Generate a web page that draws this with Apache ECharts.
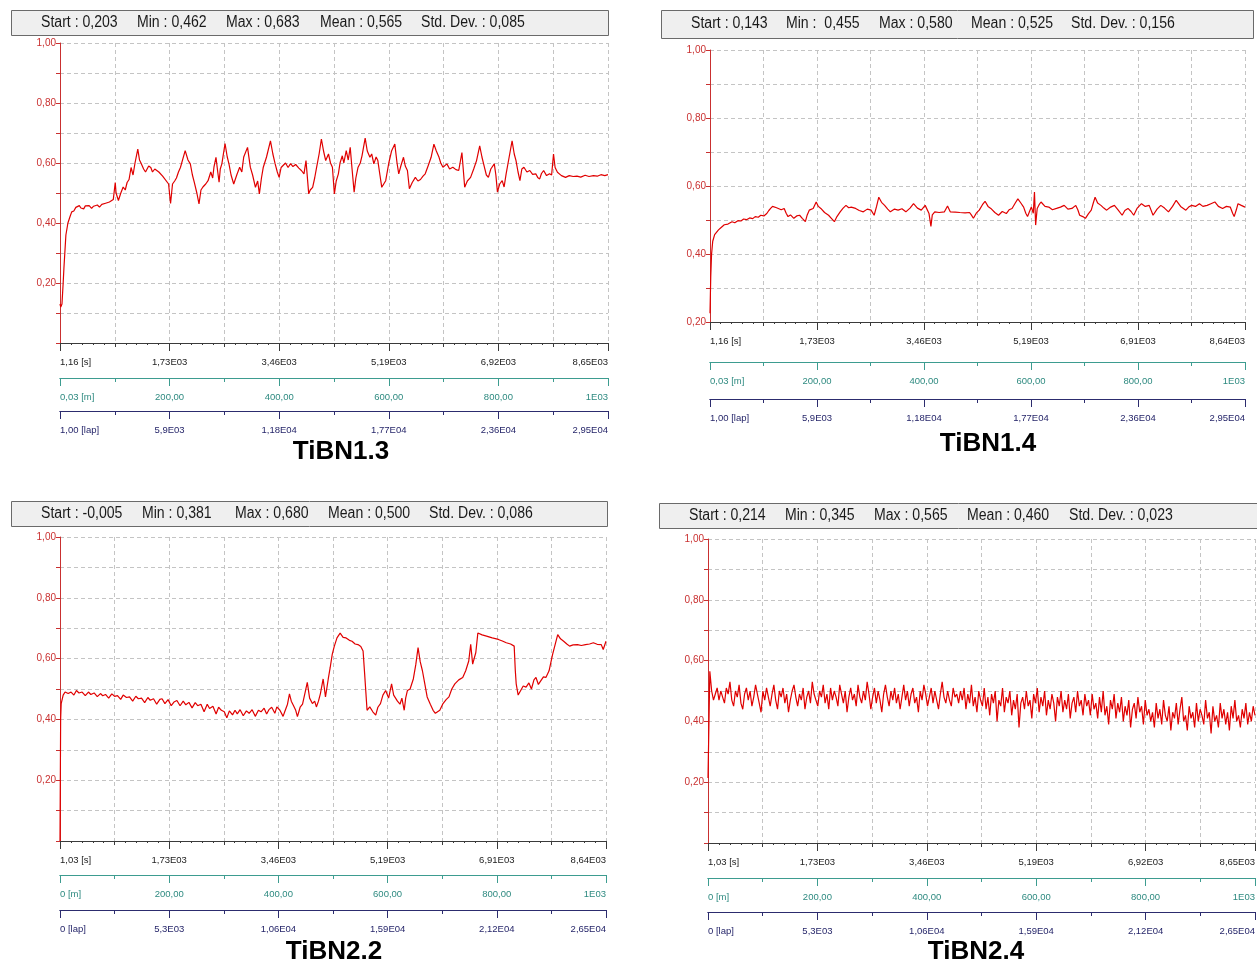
<!DOCTYPE html>
<html><head><meta charset="utf-8">
<script src="https://cdn.jsdelivr.net/npm/echarts@6/dist/echarts.min.js"></script>
<style>html,body{margin:0;padding:0;background:#fff}#c{width:1257px;height:964px}</style>
</head><body><div id="c"></div><script>
// ---------- DATA ----------
// TiBN1.3 : [time s, friction coefficient]
const tibn13 = [[0,0.13],[12,0.12],[31,0.13],[50,0.20],[62,0.25],[93,0.36],[125,0.40],[156,0.42],[185,0.437],[218,0.44],[250,0.452],[280,0.446],[305,0.458],[330,0.45],[350,0.456],[374,0.447],[400,0.457],[430,0.452],[460,0.458],[499,0.449],[530,0.456],[560,0.45],[590,0.46],[623,0.453],[660,0.462],[690,0.456],[720,0.466],[748,0.46],[780,0.47],[810,0.466],[841,0.478],[872,0.535],[885,0.5],[900,0.49],[922,0.475],[960,0.50],[997,0.52],[1030,0.51],[1059,0.535],[1090,0.545],[1122,0.585],[1153,0.56],[1184,0.60],[1228,0.646],[1255,0.61],[1278,0.60],[1320,0.58],[1350,0.57],[1371,0.575],[1400,0.59],[1433,0.585],[1460,0.57],[1496,0.58],[1527,0.586],[1560,0.57],[1589,0.565],[1620,0.556],[1651,0.552],[1714,0.53],[1745,0.465],[1776,0.53],[1810,0.54],[1838,0.55],[1870,0.57],[1901,0.585],[1976,0.641],[2020,0.61],[2057,0.597],[2090,0.56],[2119,0.536],[2160,0.50],[2194,0.464],[2225,0.51],[2256,0.52],[2300,0.53],[2337,0.541],[2380,0.57],[2410,0.55],[2430,0.586],[2462,0.619],[2490,0.57],[2511,0.536],[2530,0.58],[2555,0.597],[2605,0.665],[2640,0.62],[2667,0.597],[2700,0.56],[2742,0.53],[2790,0.56],[2836,0.586],[2870,0.57],[2900,0.62],[2960,0.652],[3004,0.586],[3040,0.56],[3085,0.519],[3120,0.54],[3147,0.497],[3180,0.55],[3209,0.586],[3260,0.62],[3322,0.674],[3360,0.63],[3396,0.597],[3430,0.57],[3459,0.552],[3490,0.585],[3521,0.591],[3560,0.60],[3600,0.585],[3640,0.598],[3677,0.588],[3720,0.595],[3770,0.583],[3810,0.575],[3851,0.564],[3883,0.608],[3926,0.497],[3950,0.51],[3988,0.519],[4020,0.55],[4051,0.586],[4090,0.63],[4126,0.680],[4160,0.64],[4194,0.608],[4238,0.630],[4270,0.60],[4300,0.586],[4331,0.497],[4360,0.54],[4394,0.564],[4420,0.60],[4456,0.624],[4480,0.60],[4518,0.641],[4550,0.61],[4581,0.652],[4610,0.58],[4643,0.503],[4670,0.55],[4705,0.586],[4740,0.60],[4767,0.624],[4817,0.683],[4850,0.64],[4892,0.619],[4920,0.63],[4954,0.597],[4990,0.62],[5017,0.608],[5050,0.56],[5079,0.519],[5110,0.53],[5141,0.541],[5190,0.60],[5235,0.641],[5285,0.663],[5320,0.60],[5347,0.564],[5380,0.59],[5422,0.619],[5450,0.59],[5484,0.575],[5515,0.514],[5560,0.535],[5609,0.552],[5650,0.54],[5690,0.545],[5730,0.556],[5765,0.564],[5810,0.59],[5858,0.619],[5902,0.663],[5940,0.64],[5983,0.619],[6010,0.60],[6045,0.586],[6075,0.59],[6107,0.597],[6150,0.58],[6201,0.586],[6250,0.578],[6294,0.575],[6344,0.635],[6388,0.519],[6430,0.54],[6481,0.552],[6530,0.58],[6575,0.608],[6625,0.657],[6660,0.62],[6699,0.586],[6730,0.56],[6762,0.552],[6800,0.58],[6855,0.597],[6880,0.56],[6905,0.503],[6940,0.53],[6980,0.541],[7010,0.52],[7042,0.564],[7090,0.62],[7136,0.674],[7170,0.63],[7198,0.608],[7230,0.57],[7260,0.541],[7290,0.58],[7323,0.586],[7370,0.570],[7416,0.575],[7460,0.562],[7510,0.564],[7540,0.552],[7572,0.547],[7600,0.565],[7634,0.575],[7680,0.558],[7728,0.564],[7760,0.56],[7790,0.63],[7815,0.585],[7852,0.569],[7915,0.558],[7980,0.552],[8039,0.558],[8100,0.555],[8160,0.556],[8220,0.553],[8289,0.559],[8350,0.555],[8420,0.558],[8480,0.556],[8538,0.561],[8600,0.558],[8650,0.561]];
// TiBN1.4
const tibn14 = [[0,0.226],[12,0.332],[25,0.399],[44,0.4375],[75,0.457],[105,0.462],[137,0.471],[180,0.478],[231,0.486],[290,0.488],[356,0.495],[400,0.492],[450,0.498],[500,0.497],[543,0.503],[590,0.501],[640,0.506],[690,0.504],[730,0.51],[780,0.508],[820,0.514],[870,0.512],[917,0.519],[950,0.528],[979,0.534],[1010,0.54],[1042,0.543],[1075,0.536],[1104,0.538],[1150,0.53],[1198,0.534],[1230,0.52],[1260,0.51],[1300,0.515],[1354,0.505],[1400,0.512],[1447,0.514],[1490,0.505],[1540,0.495],[1570,0.515],[1603,0.529],[1666,0.534],[1715,0.553],[1750,0.54],[1790,0.534],[1850,0.522],[1915,0.514],[1960,0.505],[2009,0.495],[2050,0.51],[2102,0.524],[2150,0.535],[2196,0.543],[2240,0.536],[2280,0.538],[2352,0.534],[2410,0.528],[2476,0.524],[2540,0.532],[2601,0.529],[2651,0.514],[2690,0.54],[2726,0.567],[2770,0.552],[2820,0.543],[2870,0.532],[2913,0.524],[2980,0.532],[3038,0.529],[3100,0.533],[3163,0.524],[3230,0.535],[3287,0.548],[3350,0.535],[3412,0.529],[3475,0.543],[3537,0.519],[3568,0.481],[3590,0.515],[3630,0.524],[3700,0.522],[3786,0.524],[3836,0.541],[3880,0.524],[3960,0.523],[4036,0.522],[4120,0.521],[4192,0.522],[4220,0.515],[4254,0.505],[4300,0.52],[4348,0.529],[4400,0.545],[4442,0.555],[4490,0.54],[4535,0.534],[4600,0.522],[4660,0.514],[4720,0.525],[4785,0.519],[4830,0.53],[4878,0.534],[4930,0.55],[4972,0.562],[5020,0.55],[5065,0.538],[5100,0.52],[5128,0.51],[5160,0.525],[5190,0.538],[5221,0.52],[5240,0.582],[5259,0.485],[5284,0.534],[5315,0.545],[5346,0.553],[5410,0.54],[5471,0.538],[5530,0.53],[5596,0.534],[5660,0.538],[5720,0.543],[5780,0.532],[5845,0.534],[5907,0.543],[5940,0.53],[5970,0.514],[6020,0.51],[6063,0.505],[6110,0.518],[6157,0.529],[6190,0.55],[6219,0.567],[6260,0.55],[6313,0.543],[6360,0.535],[6406,0.529],[6470,0.538],[6531,0.543],[6590,0.53],[6656,0.514],[6700,0.528],[6750,0.534],[6800,0.525],[6843,0.514],[6900,0.535],[6968,0.548],[7030,0.54],[7093,0.543],[7155,0.514],[7220,0.532],[7280,0.543],[7340,0.535],[7404,0.524],[7470,0.54],[7529,0.558],[7600,0.54],[7685,0.529],[7730,0.538],[7779,0.543],[7840,0.54],[7904,0.548],[7960,0.54],[8028,0.543],[8090,0.548],[8153,0.553],[8210,0.54],[8278,0.534],[8340,0.54],[8402,0.538],[8440,0.52],[8465,0.51],[8500,0.53],[8527,0.548],[8580,0.543],[8640,0.538]];
// TiBN2.2
const tibn22 = [[0,0],[10,0.40],[19,0.452],[50,0.48],[81,0.49],[130,0.485],[175,0.49],[220,0.48],[260,0.495],[301,0.487],[350,0.49],[400,0.478],[450,0.49],[488,0.482],[540,0.487],[590,0.475],[640,0.485],[676,0.478],[720,0.482],[770,0.47],[820,0.484],[864,0.476],[910,0.478],[960,0.466],[1000,0.48],[1052,0.472],[1100,0.474],[1150,0.46],[1200,0.476],[1240,0.468],[1290,0.47],[1340,0.455],[1390,0.472],[1428,0.463],[1480,0.468],[1530,0.45],[1580,0.466],[1615,0.468],[1660,0.452],[1710,0.465],[1760,0.445],[1803,0.457],[1850,0.462],[1900,0.445],[1950,0.46],[1991,0.448],[2040,0.456],[2090,0.438],[2140,0.455],[2179,0.445],[2230,0.45],[2280,0.425],[2330,0.45],[2367,0.436],[2420,0.443],[2470,0.418],[2510,0.44],[2554,0.43],[2600,0.425],[2640,0.405],[2680,0.428],[2730,0.415],[2770,0.43],[2805,0.418],[2850,0.432],[2900,0.412],[2950,0.428],[2993,0.42],[3040,0.432],[3090,0.41],[3140,0.43],[3181,0.425],[3230,0.437],[3270,0.418],[3306,0.432],[3350,0.44],[3400,0.42],[3431,0.441],[3480,0.43],[3530,0.41],[3556,0.425],[3600,0.45],[3631,0.484],[3660,0.46],[3694,0.446],[3730,0.43],[3757,0.409],[3800,0.44],[3838,0.45],[3880,0.49],[3913,0.522],[3950,0.47],[3994,0.452],[4030,0.46],[4057,0.441],[4090,0.46],[4120,0.484],[4164,0.533],[4201,0.474],[4245,0.533],[4275,0.57],[4308,0.614],[4340,0.64],[4383,0.668],[4433,0.684],[4480,0.67],[4527,0.668],[4580,0.66],[4621,0.657],[4670,0.648],[4715,0.646],[4760,0.64],[4796,0.625],[4821,0.549],[4859,0.43],[4902,0.441],[4950,0.425],[4996,0.414],[5030,0.44],[5071,0.452],[5110,0.48],[5153,0.495],[5200,0.47],[5247,0.517],[5280,0.48],[5309,0.474],[5340,0.46],[5380,0.45],[5410,0.47],[5447,0.43],[5470,0.47],[5497,0.495],[5540,0.5],[5591,0.533],[5630,0.58],[5666,0.636],[5700,0.59],[5735,0.56],[5770,0.52],[5810,0.474],[5860,0.45],[5904,0.43],[5940,0.42],[5967,0.414],[6010,0.43],[6061,0.452],[6110,0.465],[6155,0.474],[6200,0.5],[6248,0.517],[6310,0.53],[6373,0.538],[6420,0.56],[6468,0.592],[6499,0.647],[6530,0.582],[6580,0.62],[6612,0.684],[6680,0.678],[6749,0.674],[6840,0.668],[6937,0.663],[7000,0.658],[7062,0.652],[7130,0.648],[7187,0.641],[7205,0.56],[7219,0.517],[7250,0.48],[7281,0.484],[7330,0.51],[7375,0.506],[7420,0.52],[7460,0.5],[7500,0.53],[7532,0.538],[7570,0.515],[7600,0.52],[7650,0.54],[7689,0.538],[7739,0.56],[7795,0.614],[7840,0.65],[7876,0.679],[7920,0.665],[7970,0.657],[8020,0.648],[8064,0.641],[8120,0.645],[8189,0.646],[8250,0.643],[8315,0.646],[8380,0.648],[8440,0.652],[8500,0.647],[8565,0.646],[8596,0.63],[8640,0.657]];
// TiBN2.4 : values sampled evenly over the test (0 .. 8650 s)
const tibn24_values = [0.214,0.565,0.50,0.47,0.49,0.51,0.47,0.50,0.48,0.46,0.51,0.49,0.53,0.47,0.45,0.50,0.48,0.52,0.46,0.44,
0.49,0.51,0.47,0.50,0.45,0.48,0.52,0.49,0.46,0.43,0.50,0.47,0.51,0.48,0.45,0.49,0.52,0.47,0.44,0.50,
0.48,0.51,0.46,0.49,0.43,0.47,0.50,0.52,0.48,0.45,0.49,0.47,0.51,0.44,0.48,0.50,0.46,0.53,0.49,0.47,
0.45,0.50,0.48,0.52,0.46,0.49,0.44,0.51,0.47,0.50,0.48,0.45,0.52,0.49,0.46,0.50,0.43,0.48,0.51,0.47,
0.49,0.45,0.52,0.48,0.46,0.50,0.47,0.53,0.49,0.44,0.48,0.51,0.46,0.50,0.47,0.43,0.49,0.52,0.48,0.45,
0.50,0.47,0.51,0.46,0.49,0.44,0.48,0.52,0.47,0.50,0.45,0.49,0.51,0.46,0.48,0.43,0.50,0.47,0.52,0.49,
0.45,0.48,0.51,0.46,0.50,0.47,0.44,0.49,0.53,0.48,0.46,0.50,0.47,0.45,0.51,0.48,0.49,0.46,0.50,
0.47,0.51,0.44,0.49,0.46,0.52,0.45,0.48,0.43,0.50,0.47,0.45,0.51,0.44,0.48,0.42,0.49,0.46,0.50,0.40,
0.47,0.45,0.51,0.43,0.48,0.46,0.50,0.42,0.47,0.44,0.49,0.38,0.46,0.48,0.44,0.50,0.45,0.47,0.41,0.49,
0.46,0.51,0.43,0.48,0.45,0.50,0.42,0.47,0.44,0.49,0.46,0.40,0.48,0.45,0.50,0.43,0.47,0.44,0.49,0.41,
0.46,0.48,0.43,0.50,0.45,0.47,0.42,0.49,0.45,
0.47,0.42,0.49,0.44,0.46,0.41,0.48,0.43,0.50,0.42,0.45,0.39,0.47,0.44,0.49,0.41,0.46,0.43,0.48,0.40,
0.45,0.42,0.47,0.38,0.44,0.46,0.41,0.48,0.43,0.45,0.39,0.47,0.42,0.44,0.40,
0.43,0.38,0.46,0.41,0.44,0.39,0.47,0.42,0.40,0.45,0.37,0.43,0.41,0.46,0.39,0.44,0.48,0.40,0.42,0.37,
0.45,0.41,0.43,0.38,0.46,0.40,0.44,0.42,0.39,0.47,0.41,0.43,0.36,0.45,0.40,0.42,0.38,0.46,0.41,0.44,
0.39,0.43,0.37,0.45,0.41,0.47,0.40,0.42,0.38,0.44,0.41,0.46,0.39,0.43,0.40,0.45,0.42];
const tibn24_duration = 8650;

// Stats header texts
const stats13 = ['Start : 0,203','Min : 0,462','Max : 0,683','Mean : 0,565','Std. Dev. : 0,085'];
const stats14 = ['Start : 0,143','Min :  0,455','Max : 0,580','Mean : 0,525','Std. Dev. : 0,156'];
const stats22 = ['Start : -0,005','Min : 0,381','Max : 0,680','Mean : 0,500','Std. Dev. : 0,086'];
const stats24 = ['Start : 0,214','Min : 0,345','Max : 0,565','Mean : 0,460','Std. Dev. : 0,023'];

// Tick labels
const time13 = ['1,16 [s]','1,73E03','3,46E03','5,19E03','6,92E03','8,65E03'];
const time14 = ['1,16 [s]','1,73E03','3,46E03','5,19E03','6,91E03','8,64E03'];
const time22 = ['1,03 [s]','1,73E03','3,46E03','5,19E03','6,91E03','8,64E03'];
const time24 = ['1,03 [s]','1,73E03','3,46E03','5,19E03','6,92E03','8,65E03'];
const dist1 = ['0,03 [m]','200,00','400,00','600,00','800,00','1E03'];
const dist2 = ['0 [m]','200,00','400,00','600,00','800,00','1E03'];
const lap1 = ['1,00 [lap]','5,9E03','1,18E04','1,77E04','2,36E04','2,95E04'];
const lap2 = ['0 [lap]','5,3E03','1,06E04','1,59E04','2,12E04','2,65E04'];
const tmax = [8650, 8640, 8640, 8650];
const ymin = [0, 0.2, 0, 0];
const titles = ['TiBN1.3','TiBN1.4','TiBN2.2','TiBN2.4'];

// ---------- LAYOUT ----------
const tibn24 = tibn24_values.map((v,i)=>[i*tibn24_duration/(tibn24_values.length-1), v]);
const panels = [
 {data:tibn13, stats:stats13, tl:time13, dl:dist1, ll:lap1, grid:{left:60,top:43,width:548,height:300}, off:[35,68], box:[11,10,597,25], statX:[41,137,226,320,421], statY:22.5, tXY:[341,452]},
 {data:tibn14, stats:stats14, tl:time14, dl:dist1, ll:lap1, grid:{left:710,top:50,width:535,height:272}, off:[40,77], box:[661,10,592,28], statX:[691,786,879,971,1071], statY:24, tXY:[988,444]},
 {data:tibn22, stats:stats22, tl:time22, dl:dist2, ll:lap2, grid:{left:60,top:537,width:546,height:304}, off:[34,69], box:[11,501,596,25], statX:[41,142,235,328,429], statY:513.5, tXY:[334,952]},
 {data:tibn24, stats:stats24, tl:time24, dl:dist2, ll:lap2, grid:{left:708,top:539,width:547,height:304}, off:[35,69], box:[659,503,598,25], statX:[689,785,874,967,1069], statY:515.5, tXY:[976,952]}
];

const RED='#c93030', TEAL='#3d9c90', NAVY='#2c2c6e', DARK='#3a3a3a', GRIDC='#c4c4c4';
const grids=[], xAxes=[], yAxes=[], series=[], graphics=[];

function yFmt(v){const k=Math.round(v*10); if(k%2!==0||k===0) return ''; return (k/10).toFixed(2).replace('.',',');}

panels.forEach((p,gi)=>{
  grids.push(Object.assign({outerBoundsMode:'none',containLabel:false},p.grid));
  yAxes.push({gridIndex:gi,type:'value',min:ymin[gi],max:1,interval:0.1,
    axisLine:{show:true,lineStyle:{color:RED,width:1}},
    axisTick:{show:true,length:4,lineStyle:{color:RED}},
    axisLabel:{show:true,color:RED,fontSize:10,fontFamily:'Liberation Sans, Arial, sans-serif',margin:4,formatter:yFmt,showMinLabel:true,showMaxLabel:true},
    splitLine:{show:true,lineStyle:{color:GRIDC,type:[4,3],width:1}}});
  const T=tmax[gi];
  const rows=[{off:0,color:DARK,lab:p.tl,lc:'#222'},{off:p.off[0],color:TEAL,lab:p.dl,lc:'#2e8a80'},{off:p.off[1],color:NAVY,lab:p.ll,lc:'#26266a'}];
  let mainIdx=null;
  rows.forEach((r,ri)=>{
    const major=T/5, mid=T/10;
    const idx=xAxes.length;
    if(ri===0) mainIdx=idx;
    xAxes.push({gridIndex:gi,type:'value',position:'bottom',offset:r.off,min:0,max:T,interval:major,
      axisLine:{show:true,onZero:false,lineStyle:{color:r.color,width:1}},
      axisTick:{show:true,length:8,lineStyle:{color:r.color}},
      axisLabel:{show:true,color:r.lc,fontSize:9.5,fontFamily:'Liberation Sans, Arial, sans-serif',margin:14,
        showMinLabel:true,showMaxLabel:true,alignMinLabel:'left',alignMaxLabel:'right',
        formatter:(v)=>{const k=Math.round(v/major);return r.lab[k]!==undefined?r.lab[k]:'';}},
      splitLine:{show:false}});
    xAxes.push({gridIndex:gi,type:'value',position:'bottom',offset:r.off,min:0,max:T,interval:mid,
      axisLine:{show:true,onZero:false,lineStyle:{color:r.color,width:1}},
      axisTick:{show:true,length:4,lineStyle:{color:r.color}},
      minorTick:{show:ri===0,splitNumber:5,length:2,lineStyle:{color:r.color}},
      axisLabel:{show:false},
      splitLine:{show:ri===0,lineStyle:{color:GRIDC,type:[4,3],width:1}}});
  });
  series.push({type:'line',xAxisIndex:mainIdx,yAxisIndex:gi,data:p.data,showSymbol:false,symbol:'none',
    lineStyle:{color:'#e00000',width:1.2},z:5,animation:false,silent:true});
  graphics.push({type:'rect',shape:{x:p.box[0]+0.5,y:p.box[1]+0.5,width:p.box[2],height:p.box[3]},
    style:{fill:'#efefef',stroke:'#6a6a6a',lineWidth:1},z:10});
  p.stats.forEach((s,si)=>{
    graphics.push({type:'text',x:p.statX[si],y:p.statY,scaleX:0.88,z:11,
      style:{text:s,fill:'#1a1a1a',font:'16px "Liberation Sans", Arial, sans-serif',textAlign:'left',textVerticalAlign:'middle'}});
  });
  graphics.push({type:'text',x:p.tXY[0],y:p.tXY[1],z:11,
    style:{text:titles[gi],fill:'#000',font:'bold 26px "Liberation Sans", Arial, sans-serif',textAlign:'center',textVerticalAlign:'middle'}});
});

const chart=echarts.init(document.getElementById('c'),null,{renderer:'canvas'});
chart.setOption({animation:false,backgroundColor:'#fff',grid:grids,xAxis:xAxes,yAxis:yAxes,series:series,graphic:graphics});
</script></body></html>
